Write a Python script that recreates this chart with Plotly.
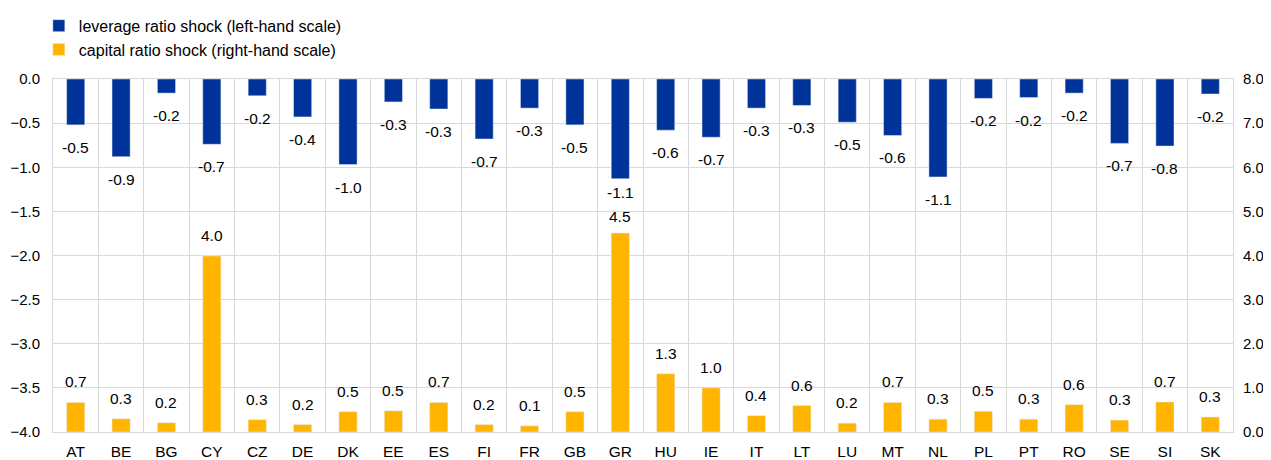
import plotly.graph_objects as go

countries = ["AT", "BE", "BG", "CY", "CZ", "DE", "DK", "EE", "ES", "FI", "FR", "GB", "GR",
             "HU", "IE", "IT", "LT", "LU", "MT", "NL", "PL", "PT", "RO", "SE", "SI", "SK"]
leverage_shock = [-0.52, -0.88, -0.16, -0.74, -0.19, -0.43, -0.97, -0.26, -0.34, -0.68, -0.33, -0.52, -1.13,
                  -0.58, -0.66, -0.33, -0.30, -0.49, -0.64, -1.11, -0.22, -0.21, -0.16, -0.73, -0.76, -0.17]
capital_shock = [0.67, 0.30, 0.21, 3.99, 0.28, 0.17, 0.46, 0.48, 0.67, 0.17, 0.14, 0.46, 4.51,
                 1.32, 1.00, 0.37, 0.60, 0.20, 0.67, 0.29, 0.47, 0.29, 0.62, 0.27, 0.68, 0.34]

blue = "#003399"
orange = "#FFB400"
grid = "#d9d9d9"
family = "Liberation Sans, Arial, sans-serif"
font = dict(family=family, size=15.5, color="#000000")
ytick_font = dict(family=family, size=15, color="#000000")

# GR labels sit closer to the bars so the two don't collide
lev_shift = {"GR": -3}
cap_shift = {"GR": 6}

traces = [
    go.Bar(x=countries, y=leverage_shock, name="leverage ratio shock (left-hand scale)",
           marker=dict(color=blue), width=0.4, yaxis="y"),
    go.Bar(x=countries, y=capital_shock, name="capital ratio shock (right-hand scale)",
           marker=dict(color=orange), width=0.4, yaxis="y2"),
]

annotations = []
for c, v in zip(countries, leverage_shock):
    annotations.append(dict(x=c, y=v, xref="x", yref="y", text="{:.1f}".format(v),
                            showarrow=False, yanchor="top", yshift=lev_shift.get(c, -12), font=font))
for c, v in zip(countries, capital_shock):
    annotations.append(dict(x=c, y=v, xref="x", yref="y2", text="{:.1f}".format(v),
                            showarrow=False, yanchor="bottom", yshift=cap_shift.get(c, 10), font=font))

# the page pushes the figure down by 8px, so it is a little shorter than the window
layout = go.Layout(
    width=1271, height=452,
    font=font,
    paper_bgcolor="white", plot_bgcolor="white",
    margin=dict(l=45, r=46, t=71, b=28, autoexpand=False),
    barmode="overlay",
    showlegend=True,
    legend=dict(x=-0.012, y=1.199, xanchor="left", yanchor="top",
                font=dict(family=family, size=16), itemwidth=30, tracegroupgap=0,
                bgcolor="rgba(0,0,0,0)"),
    annotations=annotations,
    xaxis=dict(
        type="category",
        tickson="boundaries",
        showgrid=True, gridcolor=grid, gridwidth=1,
        showline=True, linecolor=grid, mirror=True,
        ticks="", tickfont=font, ticklabelstandoff=5,
    ),
    yaxis=dict(
        range=[-4, 0], dtick=0.5, tickformat=".1f",
        showgrid=True, gridcolor=grid, zeroline=False,
        showline=True, linecolor=grid,
        ticks="", tickfont=ytick_font, ticklabelstandoff=9,
    ),
    yaxis2=dict(
        range=[0, 8], dtick=1, tickformat=".1f",
        overlaying="y", side="right",
        showgrid=False, zeroline=False,
        showline=True, linecolor=grid,
        ticks="", tickfont=ytick_font, ticklabelstandoff=6,
    ),
)

fig = go.Figure(data=traces, layout=layout)
fig.write_html("out.html")
